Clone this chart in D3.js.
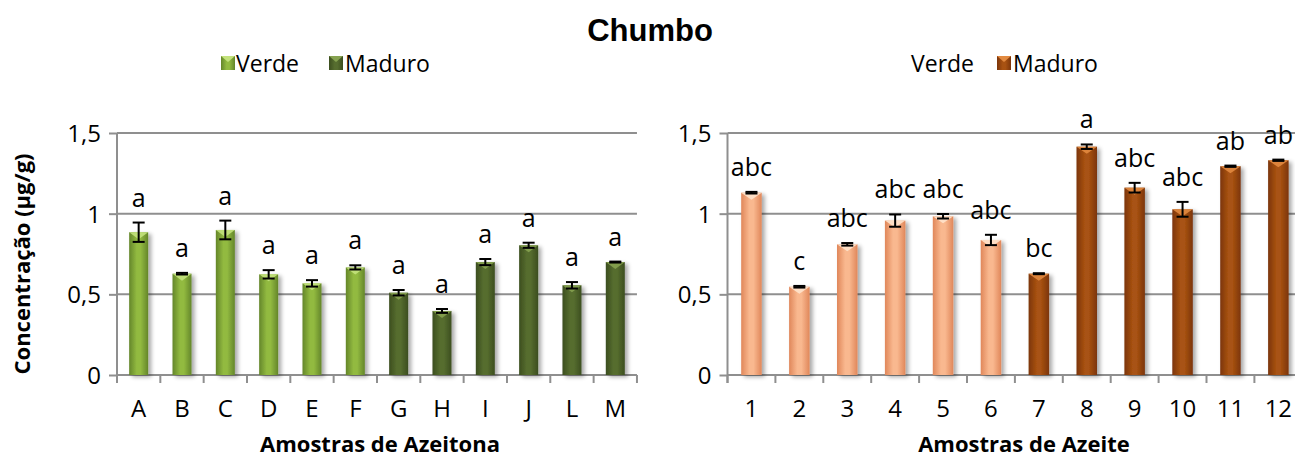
<!DOCTYPE html>
<html>
<head>
<meta charset="utf-8">
<script src="https://cdn.jsdelivr.net/npm/d3@7"></script>
<style>
  html, body { margin: 0; padding: 0; background: #fff; }
  svg { display: block; font-family: "Open Sans", "Noto Sans", sans-serif; }
</style>
</head>
<body>
<svg id="chart" width="1295" height="459"></svg>
<script>
// Lead (Chumbo) concentration, µg/g
const oliveCategories = ["A","B","C","D","E","F","G","H","I","J","L","M"];
const oliveValues     = [0.885,0.628,0.899,0.624,0.568,0.667,0.510,0.397,0.700,0.804,0.556,0.700];
const oliveErrors     = [0.060,0.005,0.058,0.026,0.020,0.013,0.017,0.012,0.019,0.016,0.020,0.003];
const oliveLetters    = ["a","a","a","a","a","a","a","a","a","a","a","a"];
const oliveStage      = ["Verde","Verde","Verde","Verde","Verde","Verde","Maduro","Maduro","Maduro","Maduro","Maduro","Maduro"];

const oilCategories = ["1","2","3","4","5","6","7","8","9","10","11","12"];
const oilValues     = [1.130,0.547,0.810,0.957,0.984,0.837,0.628,1.415,1.161,1.027,1.294,1.331];
const oilErrors     = [0.005,0.005,0.008,0.038,0.014,0.032,0.003,0.014,0.030,0.046,0.004,0.004];
const oilLetters    = ["abc","c","abc","abc","abc","abc","bc","a","abc","abc","ab","ab"];
const oilStage      = ["Verde","Verde","Verde","Verde","Verde","Verde","Maduro","Maduro","Maduro","Maduro","Maduro","Maduro"];

const yTicks = [0, 0.5, 1, 1.5];
const yTickLabels = ["0", "0,5", "1", "1,5"];

const svg = d3.select("#chart");
const defs = svg.append("defs");

// Palettes: edge, centre, bevel highlight
const palettes = {
  oliveVerde:  { edge: "#64862a", mid: "#92ba40", bevel: "#c3e27c" },
  oliveMaduro: { edge: "#3c4e1f", mid: "#566d2f", bevel: "#86a250" },
  oilVerde:    { edge: "#e0875a", mid: "#f9b88f", bevel: "#fee3cc" },
  oilMaduro:   { edge: "#7c350a", mid: "#a85212", bevel: "#e28a40" }
};

Object.entries(palettes).forEach(([key, p]) => {
  const g = defs.append("linearGradient").attr("id", "grad-" + key)
    .attr("x1", "0%").attr("x2", "100%").attr("y1", "0%").attr("y2", "0%");
  g.append("stop").attr("offset", "0%").attr("stop-color", p.edge);
  g.append("stop").attr("offset", "40%").attr("stop-color", p.mid);
  g.append("stop").attr("offset", "60%").attr("stop-color", p.mid);
  g.append("stop").attr("offset", "100%").attr("stop-color", p.edge);
});

const shadow = defs.append("filter").attr("id", "shadow")
  .attr("x", "-30%").attr("y", "-10%").attr("width", "180%").attr("height", "130%");
shadow.append("feGaussianBlur").attr("in", "SourceAlpha").attr("stdDeviation", 2.2).attr("result", "b");
shadow.append("feOffset").attr("in", "b").attr("dx", 3).attr("dy", 2).attr("result", "o");
shadow.append("feComponentTransfer").attr("in", "o").attr("result", "s")
  .append("feFuncA").attr("type", "linear").attr("slope", 0.35);
const merge = shadow.append("feMerge");
merge.append("feMergeNode").attr("in", "s");
merge.append("feMergeNode").attr("in", "SourceGraphic");

const gridColor = "#8f8f8f";
const y = d3.scaleLinear().domain([0, 1.5]).range([375, 133]);

// Title
svg.append("text").attr("x", 650).attr("y", 41).attr("text-anchor", "middle")
  .style("font-family", "Liberation Sans, Arial, sans-serif")
  .style("font-weight", "bold").style("font-size", "31px").text("Chumbo");

// Y axis title (left panel only)
svg.append("text")
  .attr("transform", "translate(30,264) rotate(-90)")
  .attr("text-anchor", "middle")
  .style("font-weight", "bold").style("font-size", "22px").attr("fill", "#000")
  .text("Concentração (µg/g)");

function drawBar(g, cx, top, bottom, w, key) {
  const p = palettes[key];
  const bg = g.append("g").attr("filter", "url(#shadow)");
  bg.append("rect").attr("x", cx - w / 2).attr("y", top).attr("width", w)
    .attr("height", bottom - top).attr("fill", "url(#grad-" + key + ")");
  const bh = Math.min(7, (bottom - top) / 2);
  bg.append("path")
    .attr("d", `M${cx - w / 2},${top} L${cx + w / 2},${top} L${cx},${top + bh} Z`)
    .attr("fill", p.bevel).attr("opacity", 0.9);
}

function panel(opts) {
  const { x0, band, categories, values, errors, letters, stages, prefix, barW, axisTitle, titleX } = opts;
  const x1 = x0 + band * categories.length;
  const x = d3.scaleBand().domain(categories).range([x0, x1]).padding(0);
  const g = svg.append("g");

  // gridlines
  g.append("g").selectAll("line").data(yTicks.filter(t => t > 0)).join("line")
    .attr("x1", x0).attr("x2", Math.min(x1, 1295)).attr("y1", d => y(d)).attr("y2", d => y(d))
    .attr("stroke", gridColor).attr("stroke-width", 2);

  // y axis
  const ya = g.append("g").attr("transform", `translate(${x0},0)`)
    .call(d3.axisLeft(y).tickValues(yTicks).tickSize(8).tickFormat((d, i) => yTickLabels[i]));
  ya.select(".domain").attr("stroke", gridColor).attr("stroke-width", 2).attr("d", `M0,${y(0) + 8}V${y(1.5)}`);
  ya.selectAll(".tick line").attr("stroke", gridColor).attr("stroke-width", 2);
  ya.selectAll(".tick text").attr("x", -16).attr("dy", "0.35em")
    .style("font-size", "24px").style("font-family", "Open Sans, sans-serif").attr("fill", "#000");

  // x axis
  const xa = g.append("g").attr("transform", `translate(0,${y(0)})`)
    .call(d3.axisBottom(x).tickSize(0).tickFormat(d => d));
  xa.select(".domain").attr("stroke", gridColor).attr("stroke-width", 2)
    .attr("d", `M${x0},0H${Math.min(x1, 1295)}`);
  xa.selectAll(".tick text").attr("y", 0).attr("dy", 0)
    .attr("transform", "translate(0,42)")
    .style("font-size", "24px").style("font-family", "Open Sans, sans-serif").attr("fill", "#000");
  // category boundary ticks
  g.append("g").selectAll("line").data(d3.range(categories.length + 1)).join("line")
    .attr("x1", i => x0 + i * band).attr("x2", i => x0 + i * band)
    .attr("y1", y(0)).attr("y2", y(0) + 8)
    .attr("stroke", gridColor).attr("stroke-width", 2);

  // bars
  categories.forEach((c, i) => {
    const cx = x(c) + x.bandwidth() / 2;
    drawBar(g, cx, y(values[i]), y(0), barW, prefix + stages[i]);
  });

  // error bars
  categories.forEach((c, i) => {
    const cx = x(c) + x.bandwidth() / 2;
    const hi = y(values[i] + errors[i]), lo = y(values[i] - errors[i]);
    const eg = g.append("g").attr("stroke", "#000").attr("stroke-width", 2);
    eg.append("line").attr("x1", cx).attr("x2", cx).attr("y1", hi).attr("y2", lo);
    eg.append("line").attr("x1", cx - 6).attr("x2", cx + 6).attr("y1", hi).attr("y2", hi);
    eg.append("line").attr("x1", cx - 6).attr("x2", cx + 6).attr("y1", lo).attr("y2", lo);
  });

  // significance letters
  categories.forEach((c, i) => {
    const cx = x(c) + x.bandwidth() / 2;
    g.append("text").attr("x", cx).attr("y", y(values[i] + errors[i]) - 16)
      .attr("text-anchor", "middle").style("font-size", "25px").attr("fill", "#000")
      .text(letters[i]);
  });

  // axis title
  g.append("text").attr("x", titleX).attr("y", 452).attr("text-anchor", "middle")
    .style("font-weight", "bold").style("font-size", "22px").text(axisTitle);
}

panel({
  x0: 117, band: 43.33, categories: oliveCategories, values: oliveValues, errors: oliveErrors,
  letters: oliveLetters, stages: oliveStage, prefix: "olive", barW: 19,
  axisTitle: "Amostras de Azeitona", titleX: 380
});

panel({
  x0: 727.5, band: 47.9, categories: oilCategories, values: oilValues, errors: oilErrors,
  letters: oilLetters, stages: oilStage, prefix: "oil", barW: 20.5,
  axisTitle: "Amostras de Azeite", titleX: 1024
});

// Legends
function swatch(x, yTop, key) {
  const p = palettes[key];
  svg.append("rect").attr("x", x).attr("y", yTop).attr("width", 14).attr("height", 14)
    .attr("fill", "url(#grad-" + key + ")");
  svg.append("path").attr("d", `M${x},${yTop} L${x + 14},${yTop} L${x + 7},${yTop + 6} Z`)
    .attr("fill", p.bevel);
}
function legendText(x, label) {
  svg.append("text").attr("x", x).attr("y", 72).style("font-size", "23px").attr("fill", "#000").text(label);
}
swatch(221, 56, "oliveVerde");
legendText(236, "Verde");
swatch(329, 56, "oliveMaduro");
legendText(345, "Maduro");

legendText(911, "Verde");
swatch(997, 56, "oilMaduro");
legendText(1013, "Maduro");
</script>
</body>
</html>
